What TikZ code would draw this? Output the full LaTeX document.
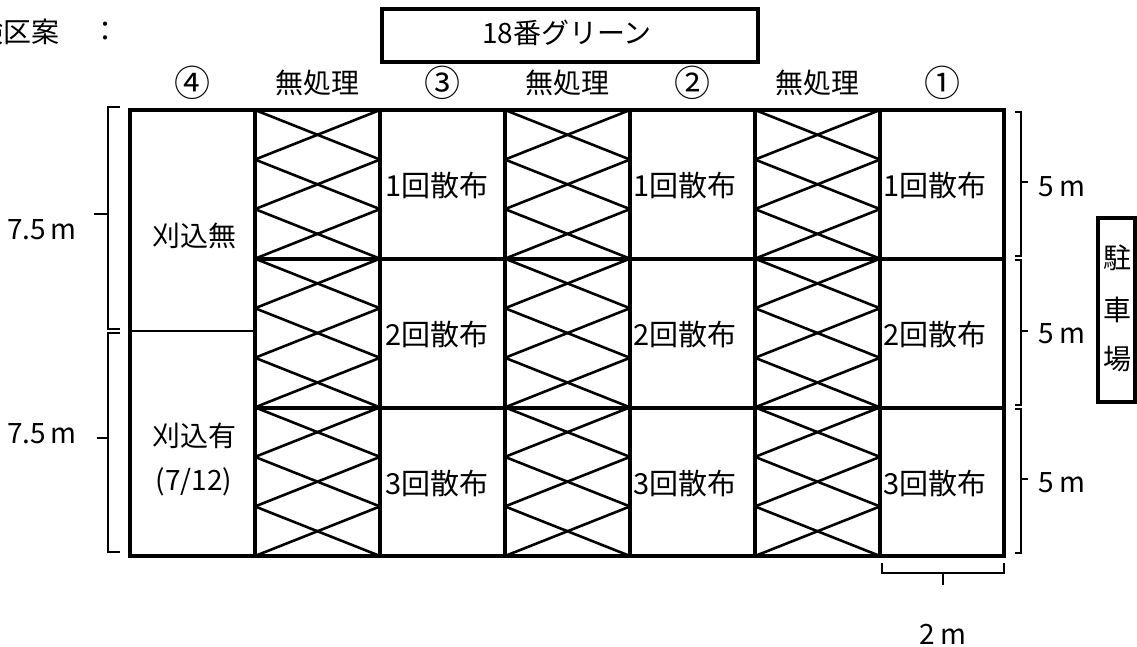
\documentclass[tikz,border=0pt]{standalone}
\usepackage{fontspec}
\setmainfont{Noto Sans CJK JP}
\begin{document}
\begin{tikzpicture}[x=1pt,y=-1pt,
  frame/.style={line width=4pt},
  colline/.style={line width=3.6pt},
  thinline/.style={line width=2.8pt},
  hatch/.style={line width=2.6pt},
  bracket/.style={line width=1.6pt},
  lbl/.style={font=\fontsize{28}{32}\selectfont, inner sep=0pt},
  circ/.style={font=\fontsize{36}{40}\selectfont, inner sep=0pt},
  cell/.style={font=\fontsize{29}{32}\selectfont, inner sep=0pt, anchor=west}]
\useasboundingbox (0,0) rectangle (1137,646);
% heading
\node[lbl, anchor=east] (title) at (60,32) {験区案};
\node[lbl] (colon) at (105,32) {：};
\node[draw, line width=4pt, minimum width=376pt, minimum height=53pt, inner sep=0pt] (green) at (570,35) {};
\node[lbl] (greentxt) at (567,33) {18番グリーン};
% column headers
\node[circ] (h4) at (192.5,83) {④};
\node[lbl] (hn1) at (317.5,83) {無処理};
\node[circ] (h3) at (442.5,83) {③};
\node[lbl] (hn2) at (567.5,83) {無処理};
\node[circ] (h2) at (692.5,83) {②};
\node[lbl] (hn3) at (817.5,83) {無処理};
\node[circ] (h1) at (942,83) {①};
% hatching of the untreated strips
\foreach \xl in {255,505,755} {
  \foreach \i in {0,...,8} {
    \draw[hatch] (\xl,{110+\i*49.556}) -- ({\xl+125},{110+(\i+1)*49.556});
    \draw[hatch] ({\xl+125},{110+\i*49.556}) -- (\xl,{110+(\i+1)*49.556});
  }
}
% grid
\draw[colline] (255,259) -- (1004,259);
\draw[colline] (255,408) -- (1004,408);
\draw[thinline] (130,331) -- (255,331);
\foreach \x in {255,380,505,630,755,880} {
  \draw[colline] (\x,110) -- (\x,556);
}
\draw[frame] (130,110) rectangle (1004,556);
% cell labels
\node[lbl] (kn) at (194,236) {刈込無};
\node[lbl] (ky) at (194,436) {刈込有};
\node[lbl] (kd) at (194,482) {(7/12)};
\foreach \x/\c in {385/a,633/b,883/c} {
  \node[cell] (s1\c) at (\x,185) {1回散布};
  \node[cell] (s2\c) at (\x,334) {2回散布};
  \node[cell] (s3\c) at (\x,483) {3回散布};
}
% left brackets
\draw[bracket] (120,107) -- (108,107) -- (108,329) -- (120,329);
\draw[bracket] (94,214) -- (108,214);
\draw[bracket] (120,333) -- (108,333) -- (108,552) -- (120,552);
\draw[bracket] (97,438) -- (108,438);
\node[lbl] (l1) at (42,230) {7.5\,m};
\node[lbl] (l2) at (42,434) {7.5\,m};
% right brackets
\draw[bracket] (1015,112) -- (1021,112) -- (1021,256) -- (1015,256);
\draw[bracket] (1021,182) -- (1028,182);
\draw[bracket] (1015,260) -- (1021,260) -- (1021,405) -- (1015,405);
\draw[bracket] (1021,331) -- (1028,331);
\draw[bracket] (1015,409) -- (1021,409) -- (1021,553) -- (1015,553);
\draw[bracket] (1021,479) -- (1028,479);
\node[lbl] (r1) at (1062,187) {5\,m};
\node[lbl] (r2) at (1062,334) {5\,m};
\node[lbl] (r3) at (1062,483) {5\,m};
% bottom bracket
\draw[bracket] (882,563) -- (882,573) -- (1004,573) -- (1004,563);
\draw[bracket] (943,573) -- (943,585);
\node[lbl] (b1) at (943,634) {2\,m};
% parking
\draw[frame] (1098,218) rectangle (1135,402);
\node[lbl] (p1) at (1117,258) {駐};
\node[lbl] (p2) at (1117,310) {車};
\node[lbl] (p3) at (1117,359) {場};
\end{tikzpicture}
\end{document}
